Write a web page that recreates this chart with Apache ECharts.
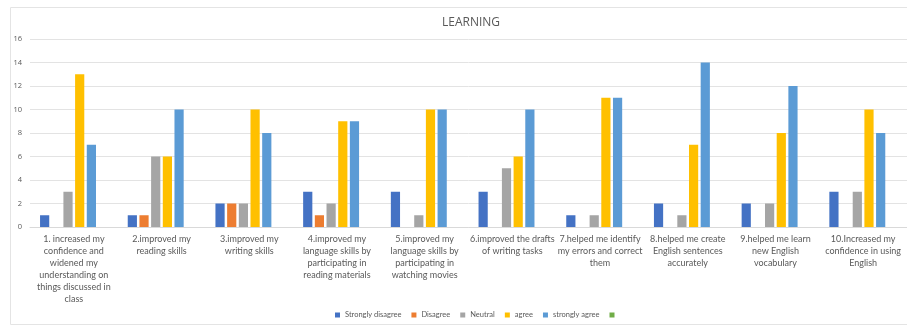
<!DOCTYPE html>
<html><head><meta charset="utf-8">
<script src="https://cdn.jsdelivr.net/npm/echarts@6/dist/echarts.min.js"></script>
<style>html,body{margin:0;padding:0;background:#fff}#c{width:907px;height:329px}</style>
</head><body><div id="c"></div>
<script>
const categories = [
  "1. increased my\nconfidence and\nwidened my\nunderstanding on\nthings discussed in\nclass",
  "2.improved my\nreading skills",
  "3.improved my\nwriting skills",
  "4.improved my\nlanguage skills by\nparticipating in\nreading materials",
  "5.improved my\nlanguage skills by\nparticipating in\nwatching movies",
  "6.improved the drafts\nof writing tasks",
  "7.helped me identify\nmy errors and correct\nthem",
  "8.helped me create\nEnglish sentences\naccurately",
  "9.helped me learn\nnew English\nvocabulary",
  "10.Increased my\nconfidence in using\nEnglish"
];
const stronglyDisagree = [1, 1, 2, 3, 3, 3, 1, 2, 2, 3];
const disagree         = [null, 1, 2, 1, null, null, null, null, null, null];
const neutral          = [3, 6, 2, 2, 1, 5, 1, 1, 2, 3];
const agree            = [13, 6, 10, 9, 10, 6, 11, 7, 8, 10];
const stronglyAgree    = [7, 10, 8, 9, 10, 10, 11, 14, 12, 8];
const blankSeries      = [null, null, null, null, null, null, null, null, null, null];
const seriesNames = ["Strongly disagree", "Disagree", "Neutral", "agree", "strongly agree", " "];
const colors = ["#4472C4", "#ED7D31", "#A5A5A5", "#FFC000", "#5B9BD5", "#70AD47"];
const allData = [stronglyDisagree, disagree, neutral, agree, stronglyAgree, blankSeries];

const chart = echarts.init(document.getElementById('c'), null, {renderer: 'canvas'});
chart.setOption({
  animation: false,
  color: colors,
  title: {
    text: 'LEARNING', left: 437, top: 12,
    textStyle: {fontFamily: 'Open Sans', fontSize: 12, fontWeight: 'normal', color: '#595959'}
  },
  graphic: [{
    type: 'rect', left: 8, top: 5, shape: {width: 897, height: 317},
    style: {fill: 'none', stroke: '#e4e4e4', lineWidth: 1}, silent: true
  }],
  legend: {
    data: seriesNames, bottom: 5, left: 330, itemWidth: 5, itemHeight: 5, itemGap: 10,
    icon: 'rect',
    textStyle: {fontFamily: 'Lato', fontSize: 7.5, color: '#595959'}
  },
  grid: {left: 30, right: 0, top: 39, bottom: 102, containLabel: false},
  xAxis: {
    type: 'category', data: categories,
    axisLine: {lineStyle: {color: '#d9d9d9'}},
    axisTick: {show: false},
    axisLabel: {interval: 0, fontFamily: 'Lato', fontSize: 9, color: '#595959', lineHeight: 12, margin: 6}
  },
  yAxis: {
    type: 'value', min: 0, max: 16, interval: 2,
    axisLine: {show: false}, axisTick: {show: false},
    splitLine: {lineStyle: {color: '#e3e3e3'}},
    axisLabel: {fontFamily: 'Open Sans', fontSize: 7.5, color: '#595959', margin: 8}
  },
  series: seriesNames.map((n, i) => ({
    name: n, type: 'bar', data: allData[i], barWidth: 9.2, barGap: '27%'
  }))
});
</script></body></html>
